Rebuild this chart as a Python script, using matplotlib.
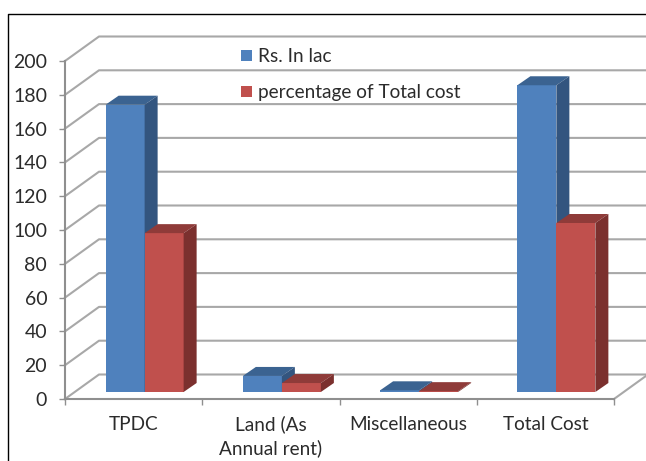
import numpy as np
import matplotlib
matplotlib.use('Agg')
import matplotlib.pyplot as plt
from matplotlib.lines import Line2D
from matplotlib.patches import Polygon

categories = ['TPDC', 'Land (As\nAnnual rent)', 'Miscellaneous', 'Total Cost']
rs_in_lac = [170, 9.5, 1, 181.5]
pct_total = [94, 5.3, 0.5, 100]
series_names = ['Rs. In lac', 'percentage of Total cost']
y_ticks = np.arange(0, 201, 20)

W, H = 646, 461
plt.rcParams['font.family'] = ['Lato', 'DejaVu Sans']
fig = plt.figure(figsize=(W / 100, H / 100), dpi=100)
ax = fig.add_axes([65 / W, 1 - 399 / H, (614 - 65) / W, (399 - 61) / H])
ax.set_xlim(0, 4)
ax.set_ylim(0, 200)
ax.patch.set_alpha(0)

# pixels to data units, for the fake 3d depth
px_x = 4 / (614 - 65)
px_y = 200 / (399 - 61)
wall_dx, wall_dy = 34 * px_x, 24.5 * px_y
bar_dx, bar_dy = 13 * px_x, 9 * px_y
base = 7 * px_y
bar_w = 39 * px_x
shift = 11 * px_x

grid_c = '#a8a8a8'
for v in y_ticks:
    ax.plot([0, wall_dx, 4 + wall_dx + 0.1], [v, v + wall_dy, v + wall_dy],
            color=grid_c, lw=1.5, clip_on=False, zorder=1)
ax.plot([4, 4 + wall_dx], [0, wall_dy], color=grid_c, lw=1.5, clip_on=False, zorder=1)

x = np.arange(len(categories)) + 0.5


def draw_series(xs, vals, color, top_c, side_c, label):
    bars = ax.bar(xs, vals, bar_w, bottom=base, color=color, label=label, zorder=3, clip_on=False)
    for xc, v in zip(xs, vals):
        l, r, t = xc - bar_w / 2, xc + bar_w / 2, base + v
        ax.add_patch(Polygon([(l, t), (l + bar_dx, t + bar_dy), (r + bar_dx, t + bar_dy), (r, t)],
                             fc=top_c, ec='none', zorder=3, clip_on=False))
        ax.add_patch(Polygon([(r, base), (r + bar_dx, base + bar_dy), (r + bar_dx, t + bar_dy), (r, t)],
                             fc=side_c, ec='none', zorder=3, clip_on=False))
    return bars


b1 = draw_series(x + shift - bar_w / 2, rs_in_lac, '#4f81bd', '#3b6391', '#33557f', series_names[0])
b2 = draw_series(x + shift + bar_w / 2, pct_total, '#c0504d', '#8f3b39', '#7b302e', series_names[1])

for s in ['top', 'right']:
    ax.spines[s].set_visible(False)
for s in ['left', 'bottom']:
    ax.spines[s].set_color('#8f8f8f')
    ax.spines[s].set_linewidth(1.5)

text_c = '#2b2b2b'
ax.set_yticks(y_ticks)
ax.tick_params(axis='y', length=4.3, width=1, color='#8f8f8f', pad=8.5,
               labelsize=14, labelcolor=text_c)
ax.set_xticks(x)
ax.set_xticklabels(categories, linespacing=1.35)
ax.set_xticks(np.arange(0, 5), minor=True)
ax.tick_params(axis='x', which='major', length=0, pad=12, labelsize=13.7, labelcolor=text_c)
ax.tick_params(axis='x', which='minor', length=4.3, width=1, color='#8f8f8f')

ax.legend(handles=[b1, b2], frameon=False, loc='upper left',
          bbox_to_anchor=((224 - 65) / (614 - 65), (399 - 31) / (399 - 61)),
          fontsize=13.7, labelspacing=1.0, handlelength=0.55, handleheight=0.55,
          handletextpad=0.34, labelcolor=text_c)

# outer frame, runs off the right and bottom of the picture
fig.add_artist(Line2D([8 / W, 8 / W, 1], [0, 1 - 14.5 / H, 1 - 14.5 / H], color='black', lw=1))

fig.savefig('out.png', dpi=100)
